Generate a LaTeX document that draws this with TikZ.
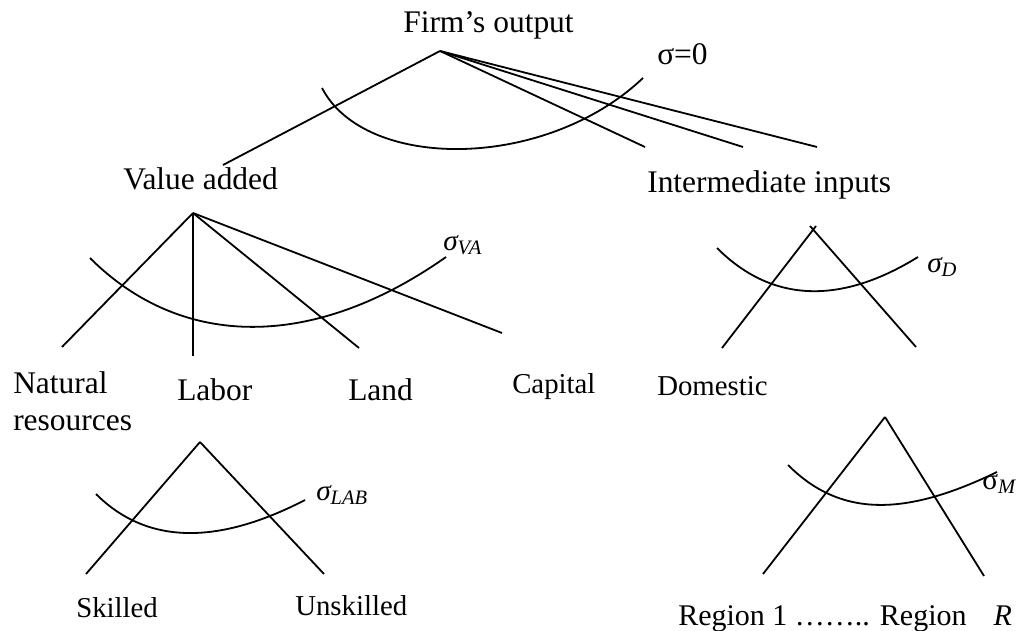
\documentclass[tikz,border=0pt]{standalone}
\usepackage{fontspec}
\setmainfont{Liberation Serif}

\tikzset{
  lbl/.style={anchor=base west,inner sep=0pt,font=\fontsize{23.6}{27.75}\selectfont},
  smalllbl/.style={lbl,font=\fontsize{21.6}{26}\selectfont},
  siglbl/.style={lbl,font=\fontsize{22}{26}\selectfont},
  branch/.style={line width=1.35pt},
  iso/.style={line width=1.35pt}
}

\begin{document}
\begin{tikzpicture}[x=0.75pt,y=-0.75pt]
  \useasboundingbox (0,0) rectangle (1027,631);

  % firm's output
  \node (firm) [lbl] at (403,33) {Firm’s output};
  \coordinate (top) at (440,51);
  \coordinate (top_va) at (223,165);
  \coordinate (top_i1) at (645,147);
  \coordinate (top_i2) at (743,147);
  \coordinate (top_i3) at (817,147);
  \foreach \e in {top_va,top_i1,top_i2,top_i3}
    \draw [branch] (top) -- (\e);
  \draw [iso] (322,88) .. controls (365,171) and (545,171) .. (643,78);
  \node (sig_top) [lbl] at (657,65) {σ=0};

  \node (va_title) [lbl] at (123,189) {Value added};
  \node (int_title) [lbl] at (647,192) {Intermediate inputs};

  % value added nest
  \coordinate (va) at (193,213);
  \coordinate (va_nat) at (62,347);
  \coordinate (va_lab) at (193,356);
  \coordinate (va_land) at (359,348);
  \coordinate (va_cap) at (502,333);
  \foreach \e in {va_nat,va_lab,va_land,va_cap}
    \draw [branch] (va) -- (\e);
  \draw [iso] (90,258) .. controls (182,350) and (314,350) .. (446,257);
  \node (sig_va) [siglbl] at (443,250) {\itshape σ\textsubscript{VA}};

  \node (nat) [lbl,align=left] at (13,430) {Natural\\resources};
  \node (labor) [lbl] at (177,400) {Labor};
  \node (land) [lbl] at (348,400) {Land};
  \node (capital) [smalllbl] at (512,393) {Capital};

  % domestic / imported
  \coordinate (dom) at (813,230);
  \coordinate (dom_l) at (722,348);
  \coordinate (dom_r) at (916,347);
  \draw [branch] (dom_l) -- ([shift={(3,-4)}]dom);
  \draw [branch] (dom_r) -- ([shift={(-3,-4)}]dom);
  \draw [iso] (717,248) .. controls (773,304) and (842,304) .. (918,257);
  \node (sig_d) [siglbl] at (927,272) {\itshape σ\textsubscript{D}};
  \node (domestic) [smalllbl] at (657,395) {Domestic};

  % regions
  \coordinate (imp) at (885,417);
  \coordinate (imp_l) at (763,574);
  \coordinate (imp_r) at (984,576);
  \foreach \e in {imp_l,imp_r}
    \draw [branch] (imp) -- (\e);
  \draw [iso] (788,465) .. controls (840,517) and (904,517) .. (997,472);
  \node (sig_m) [siglbl] at (982,489) {σ\textsubscript{\itshape M}};
  \node (regions) [lbl,font=\fontsize{22.5}{27}\selectfont] at (678,625) {Region 1 …….. Region\hspace{0.9em}\textit{R}};

  % labor nest
  \coordinate (lab) at (200,442);
  \coordinate (lab_s) at (86,574);
  \coordinate (lab_u) at (324,574);
  \foreach \e in {lab_s,lab_u}
    \draw [branch] (lab) -- (\e);
  \draw [iso] (96,494) .. controls (147,545) and (218,545) .. (305,500);
  \node (sig_lab) [siglbl] at (316,500) {\itshape σ\textsubscript{LAB}};
  \node (skilled) [smalllbl] at (76,617) {Skilled};
  \node (unskilled) [smalllbl] at (295,615) {Unskilled};

\end{tikzpicture}
\end{document}
